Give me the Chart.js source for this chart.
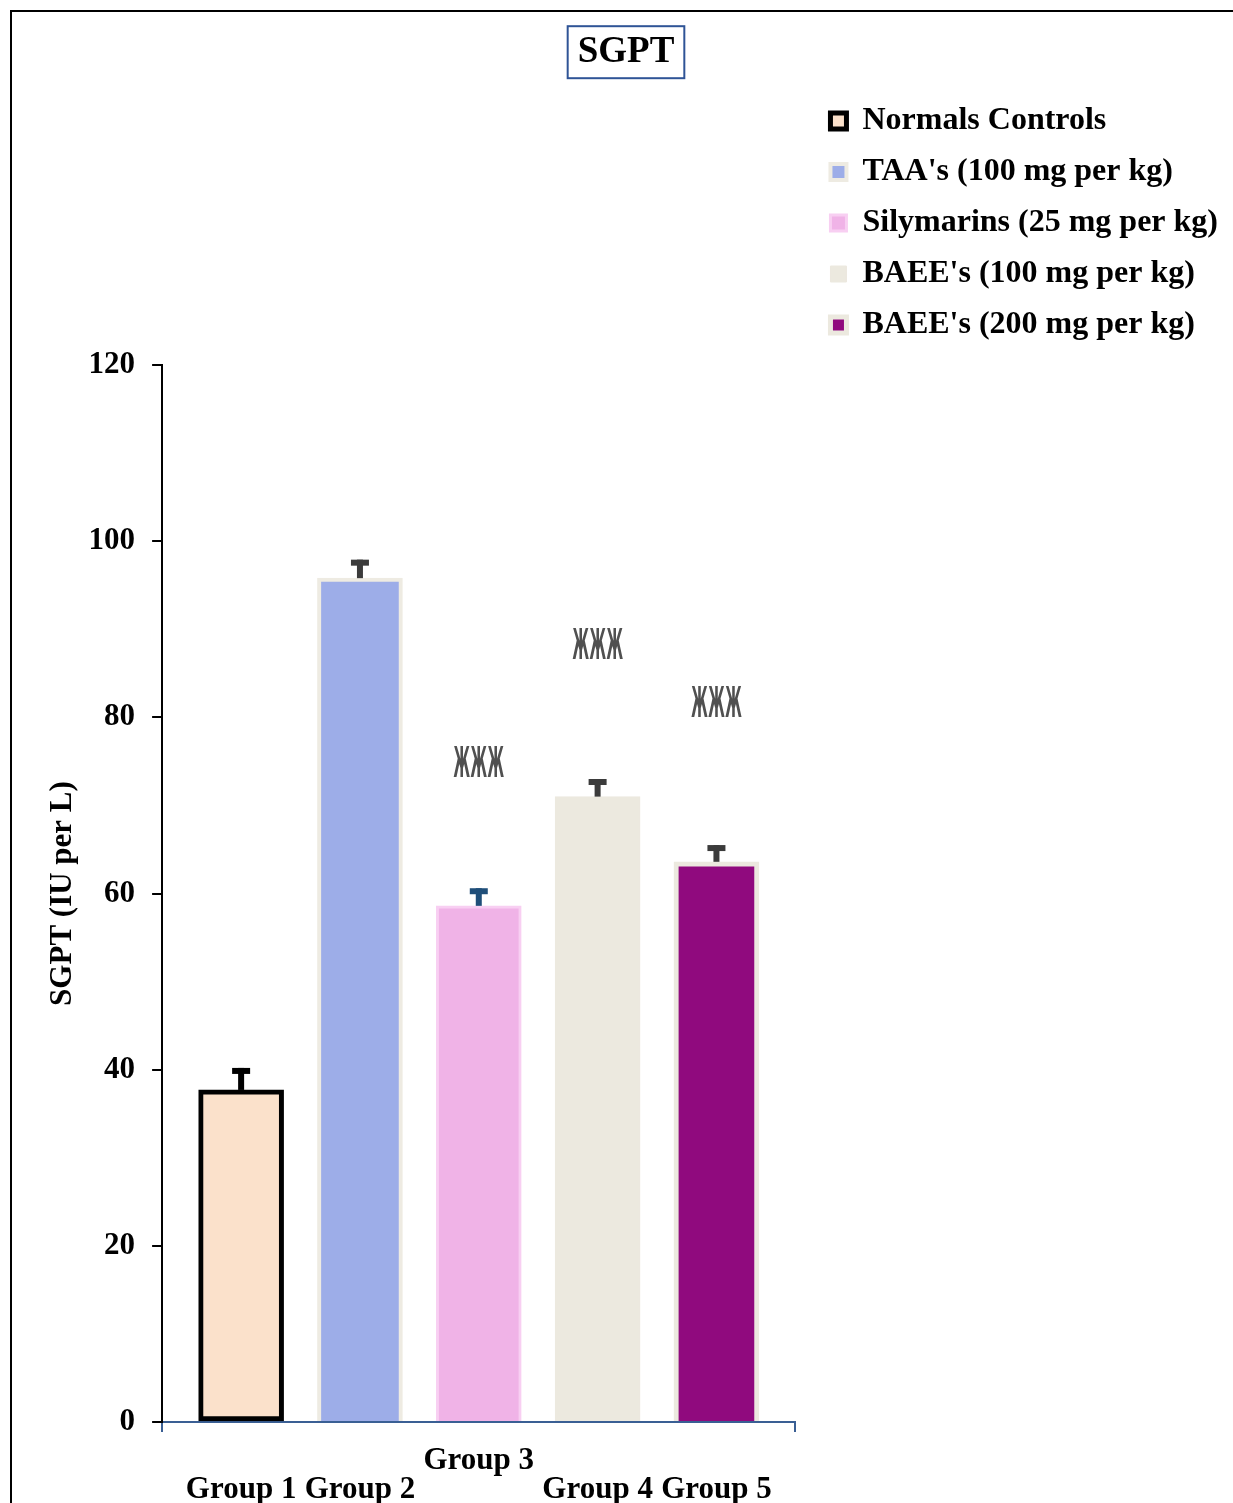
<!DOCTYPE html>
<html>
<head>
<meta charset="utf-8">
<script src="https://cdn.jsdelivr.net/npm/chart.js@4.4.1/dist/chart.umd.min.js"></script>
<style>
    body { margin: 0; background: #fff; }
    #wrap { position: relative; width: 1233px; height: 1503px; overflow: hidden; }
    #frame {
        position: absolute; left: 10px; top: 10px; width: 1240px; height: 1500px;
        border-top: 2px solid #000; border-left: 2px solid #000; pointer-events: none;
    }
    canvas { position: absolute; left: 0; top: 0; }
</style>
</head>
<body>
<div id="wrap">
    <canvas id="sgptChart" width="1233" height="1503"></canvas>
    <div id="frame"></div>
</div>
<script>
// Data
const groups = ["Normals Controls", "TAA's (100 mg per kg)", "Silymarins (25 mg per kg)", "BAEE's (100 mg per kg)", "BAEE's (200 mg per kg)"];
const groupLabels = ["Group 1", "Group 2", "Group 3", "Group 4", "Group 5"];
const sgptMeans = [37.7, 95.8, 58.6, 71.0, 63.6];
const sgptSem = [2.5, 2.1, 2.0, 2.0, 1.9];
const sigLevels = [null, null, 74.5, 87.9, 81.3]; // where the significance signs sit
const raisedLabels = ["Group 3"]; // label printed on the upper line

// Styles
const fillColors = ["#FBE1CB", "#9DADE8", "#F0B3E7", "#ECE9DF", "#900A7E"];
const edgeColors = ["#000000", "#EEEBE2", "#F8CFF2", "#ECE9DF", "#ECE9DF"];
const edgeWidths = [5, 4, 3, 1, 5];
const errColors = ["#000000", "#3B3B3B", "#1F4E79", "#3B3B3B", "#3B3B3B"];
const axisBlue = "#3A5F94";

Chart.defaults.font.family = '"Liberation Serif", "Times New Roman", serif';
Chart.defaults.color = "#000";

const datasets = groups.map((name, i) => ({
    label: name,
    data: [{ x: i, y: sgptMeans[i] }],
    backgroundColor: fillColors[i],
    borderColor: edgeColors[i],
    borderWidth: edgeWidths[i],
    borderSkipped: i === 0 ? false : "start",
}));

// Error bars (upper half only) and significance signs
const extras = {
    id: "extras",
    afterDatasetsDraw(chart) {
        const ctx = chart.ctx;
        const y = chart.scales.y;
        ctx.save();
        chart.data.datasets.forEach((ds, i) => {
            const bar = chart.getDatasetMeta(i).data[0];
            const top = y.getPixelForValue(sgptMeans[i] + sgptSem[i]);
            ctx.fillStyle = errColors[i];
            ctx.fillRect(bar.x - 3, top, 6, bar.y - top);
            ctx.fillRect(bar.x - 9, top, 18, 6);
            if (sigLevels[i] !== null) {
                const sy = y.getPixelForValue(sigLevels[i]);
                [-17, 0, 17].forEach((dx) => {
                    ctx.save();
                    ctx.translate(bar.x + dx, sy);
                    ctx.scale(0.32, 1);
                    ctx.font = 'bold 42px "DejaVu Sans"';
                    ctx.textAlign = "center";
                    ctx.textBaseline = "middle";
                    ctx.fillStyle = "#505050";
                    ctx.fillText("Ж", 0, 0);
                    ctx.restore();
                });
            }
        });
        ctx.restore();
    },
    afterDraw(chart) {
        // box around the title
        const t = chart.titleBlock;
        const ctx = chart.ctx;
        ctx.save();
        ctx.font = 'bold 37px "Liberation Serif"';
        const w = ctx.measureText(t.options.text).width;
        const cx = (t.left + t.right) / 2;
        const cy = t.top + t.options.padding.top + 37 * 1.2 / 2;
        ctx.strokeStyle = "#2F5496";
        ctx.lineWidth = 2;
        ctx.strokeRect(cx - w / 2 - 10, cy - 26, w + 20, 52);
        ctx.restore();
    },
};

function drawChart() {
    return new Chart(document.getElementById("sgptChart"), {
        type: "bar",
        data: { datasets: datasets },
        options: {
            responsive: false,
            animation: false,
            devicePixelRatio: 1,
            grouped: false,
            barThickness: 85,
            layout: { padding: { top: 20, left: 24, right: 5, bottom: -16 } },
            scales: {
                x: {
                    type: "linear",
                    min: -0.665,
                    max: 4.665,
                    offset: false,
                    border: { color: axisBlue, width: 2 },
                    grid: {
                        offset: false,
                        drawOnChartArea: false,
                        tickLength: 10,
                        lineWidth: 2,
                        color: (c) => (c.tick && Number.isInteger(c.tick.value) ? "rgba(0,0,0,0)" : axisBlue),
                    },
                    afterBuildTicks: (scale) => {
                        // one tick per group, plus the two ends of the axis
                        scale.ticks = [scale.min, ...groupLabels.map((g, i) => i), scale.max].map((value) => ({ value }));
                    },
                    ticks: {
                        autoSkip: false,
                        maxRotation: 0,
                        minRotation: 0,
                        padding: 14.5,
                        font: { size: 31, weight: "bold", lineHeight: 0.935 },
                        callback: function (value) {
                            if (!Number.isInteger(value) || value < 0 || value >= groupLabels.length) return "";
                            const lbl = groupLabels[value];
                            return raisedLabels.includes(lbl) ? [lbl, ""] : ["", lbl];
                        },
                    },
                },
                y: {
                    min: 0,
                    max: 120,
                    border: { color: "#000", width: 2 },
                    grid: { drawOnChartArea: false, tickLength: 10, lineWidth: 2, color: "#000" },
                    ticks: { stepSize: 20, padding: 17, font: { size: 31, weight: "bold" } },
                    title: {
                        display: true,
                        text: "SGPT (IU per L)",
                        font: { size: 31, weight: "bold" },
                        padding: { top: 20.4, bottom: -10 },
                    },
                },
                gap: {
                    // empty spacer between plot and legend
                    position: "right",
                    display: true,
                    grid: { display: false },
                    border: { display: false },
                    ticks: { display: false },
                    afterFit: (scale) => { scale.width = 16; },
                },
            },
            plugins: {
                title: {
                    display: true,
                    text: "SGPT",
                    font: { size: 37, weight: "bold" },
                    color: "#000",
                    padding: { top: 10, bottom: 290.6 },
                },
                legend: {
                    position: "right",
                    align: "start",
                    maxWidth: 600,
                    title: { display: true, text: "", font: { size: 10 }, padding: { top: 54, bottom: 0 } },
                    labels: {
                        boxWidth: 16,
                        boxHeight: 16,
                        padding: 19,
                        color: "#000",
                        font: { size: 32, weight: "bold" },
                    },
                },
                tooltip: { enabled: false },
            },
        },
        plugins: [extras],
    });
}

Promise.all([
    document.fonts.load('bold 31px "Liberation Serif"'),
    document.fonts.load('bold 42px "DejaVu Sans"'),
]).then(drawChart, drawChart);
</script>
</body>
</html>
